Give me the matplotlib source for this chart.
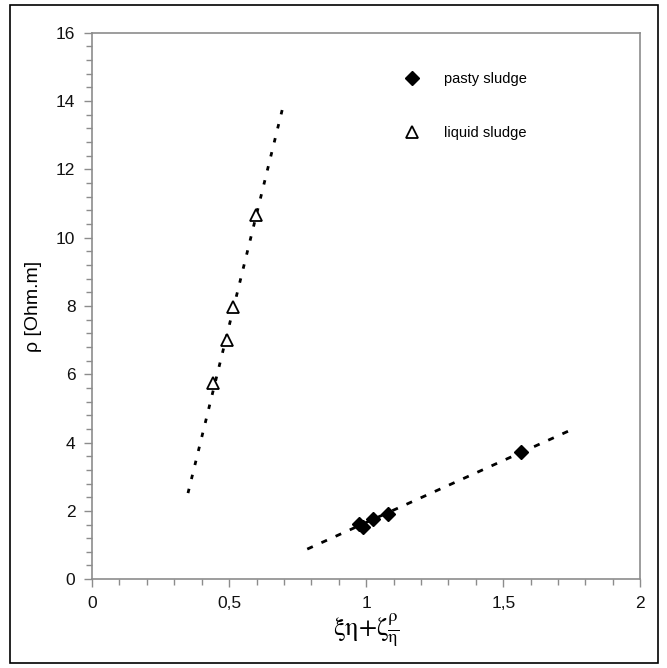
import numpy as np
import matplotlib
matplotlib.use("Agg")
import matplotlib.pyplot as plt
from matplotlib.patches import Rectangle
from matplotlib.ticker import MultipleLocator

plt.rcParams['font.family'] = ['Liberation Sans', 'DejaVu Sans']
plt.rcParams['mathtext.fontset'] = 'stix'

# data
pasty_x = [0.974, 0.989, 1.026, 1.080, 1.566]
pasty_y = [1.61, 1.52, 1.76, 1.91, 3.73]
liquid_x = [0.442, 0.493, 0.515, 0.599]
liquid_y = [5.75, 7.0, 7.98, 10.67]

# fitted trend lines (end points)
pasty_fit_x = [0.785, 1.75]
pasty_fit_y = [0.88, 4.38]
liquid_fit_x = [0.350, 0.697]
liquid_fit_y = [2.52, 13.85]

x_ticks = [0, 0.5, 1, 1.5, 2]
x_tick_labels = ["0", "0,5", "1", "1,5", "2"]
y_ticks = [0, 2, 4, 6, 8, 10, 12, 14, 16]

grey = '#8c8c8c'

fig = plt.figure(figsize=(6.67, 6.68), dpi=100)
ax = fig.add_axes([0.138, 0.133, 0.822, 0.818])

# outer frame round the whole chart
fig.patches.append(Rectangle((10 / 667, 5 / 668), 648 / 667, 658 / 668,
                             transform=fig.transFigure, fill=False,
                             edgecolor='black', linewidth=1.2))

ax.plot(liquid_fit_x, liquid_fit_y, color='black', lw=2.0,
        linestyle=(0, (1.6, 3.6)))
ax.plot(pasty_fit_x, pasty_fit_y, color='black', lw=2.0,
        linestyle=(0, (2.2, 3.4)))

ax.plot(pasty_x, pasty_y, linestyle='none', marker='D', markersize=7,
        color='black', label='pasty sludge')
ax.plot(liquid_x, liquid_y, linestyle='none', marker='^', markersize=9,
        markerfacecolor='white', markeredgecolor='black', markeredgewidth=1.3,
        label='liquid sludge')

ax.set_xlim(0, 2)
ax.set_ylim(0, 16)
ax.set_xticks(x_ticks)
ax.set_xticklabels(x_tick_labels)
ax.set_yticks(y_ticks)
ax.xaxis.set_minor_locator(MultipleLocator(0.1))
ax.yaxis.set_minor_locator(MultipleLocator(0.4))

for sp in ax.spines.values():
    sp.set_color(grey)
    sp.set_linewidth(1.2)

ax.tick_params(which='both', direction='out', color=grey, width=1.0,
               labelsize=12.5, labelcolor='#111111')
ax.tick_params(which='major', length=6, pad=6)
ax.tick_params(which='minor', length=4)

ax.set_xlabel(r'$\mathrm{\xi\eta{+}\zeta\frac{\rho}{\eta}}$', fontsize=19, labelpad=1)
ax.set_ylabel('ρ [Ohm.m]', fontsize=14, labelpad=10)

ax.legend(loc='upper left', bbox_to_anchor=(0.555, 0.942), frameon=False,
          fontsize=10.5, labelspacing=2.75, handletextpad=1.6,
          handlelength=1.2, borderpad=0)

fig.savefig('out.png', dpi=100)
